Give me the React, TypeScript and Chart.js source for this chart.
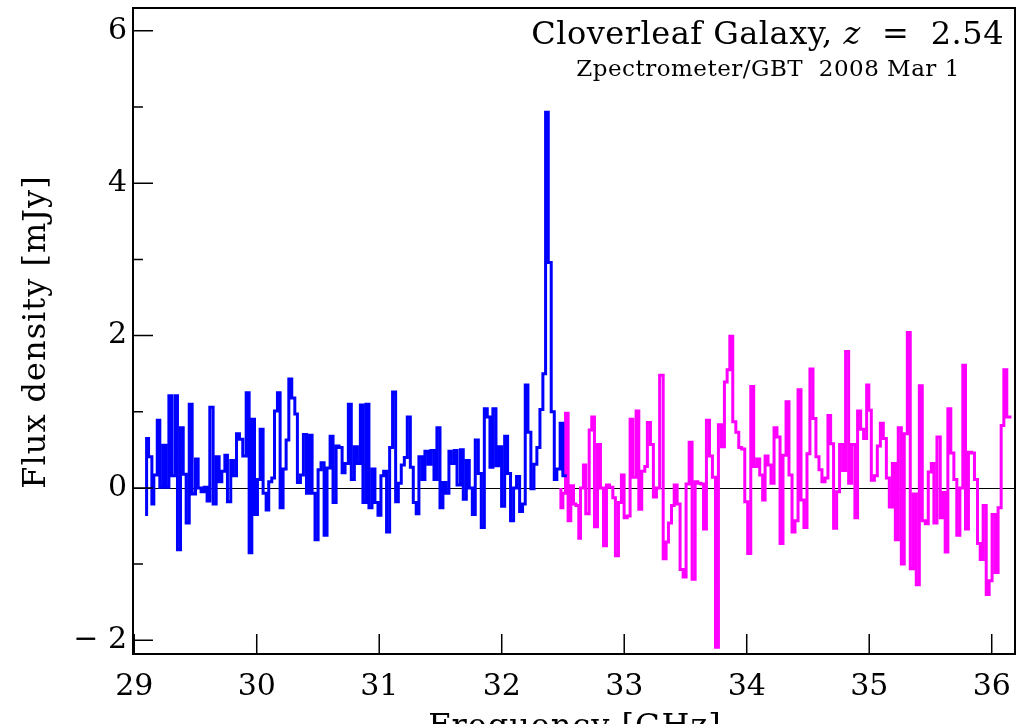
import React, { useEffect, useRef } from 'react';
import { Chart, registerables } from 'chart.js';

Chart.register(...registerables);

// Axis ranges and ticks
const xMin = 28.99;
const xMax = 36.19;
const yMin = -2.18;
const yMax = 6.3;
const xTicks = [29, 30, 31, 32, 33, 34, 35, 36];
const yMajorTicks = [-2, 0, 2, 4, 6];
const yMinorTicks = [-1, 1, 3, 5];

const titleMain = 'Cloverleaf Galaxy, ';
const titleVar = 'z';
const titleRest = '  =  2.54';
const subtitle = 'Zpectrometer/GBT  2008 Mar 1';
const xTitle = 'Frequency [GHz]';
const yTitle = 'Flux density [mJy]';

// Blue spectrum (channel start frequency in GHz, flux in mJy)
const blueFreq = [
  29.101, 29.117, 29.144, 29.16, 29.188, 29.209, 29.234, 29.258, 29.283, 29.305,
  29.332, 29.353, 29.378, 29.4, 29.424, 29.449, 29.473, 29.5, 29.522, 29.546,
  29.571, 29.595, 29.617, 29.644, 29.669, 29.693, 29.715, 29.74, 29.761, 29.788,
  29.81, 29.835, 29.859, 29.886, 29.914, 29.938, 29.96, 29.982, 30.006, 30.028,
  30.052, 30.077, 30.098, 30.123, 30.145, 30.169, 30.191, 30.215, 30.24, 30.262,
  30.286, 30.311, 30.332, 30.357, 30.381, 30.406, 30.43, 30.452, 30.476, 30.501,
  30.525, 30.55, 30.574, 30.599, 30.623, 30.648, 30.672, 30.697, 30.721, 30.748,
  30.772, 30.797, 30.821, 30.846, 30.867, 30.892, 30.916, 30.941, 30.965, 30.99,
  31.014, 31.036, 31.06, 31.085, 31.109, 31.134, 31.156, 31.18, 31.205, 31.229,
  31.254, 31.278, 31.302, 31.324, 31.349, 31.373, 31.398, 31.422, 31.447, 31.471,
  31.496, 31.52, 31.544, 31.569, 31.588, 31.613, 31.635, 31.662, 31.686, 31.711,
  31.735, 31.76, 31.784, 31.809, 31.833, 31.858, 31.882, 31.904, 31.928, 31.953,
  31.975, 31.999, 32.024, 32.048, 32.072, 32.097, 32.121, 32.146, 32.17, 32.192,
  32.214, 32.238, 32.263, 32.287, 32.312, 32.336, 32.358, 32.38, 32.404, 32.429,
  32.45, 32.477, 32.499, 32.521, 32.531,
];
const blueFlux = [
  -0.37, 0.65, 0.41, -0.21, 0.17, 0.89, 0.01, 0.56, 0.01, 1.21,
  0.16, 1.21, -0.81, 0.79, 0.18, -0.46, 1.1, -0.08, 0.38, 0.0,
  -0.05, 0.01, -0.17, 1.06, -0.21, 0.41, 0.08, 0.22, 0.43, -0.18,
  0.36, 0.16, 0.71, 0.64, 0.42, 1.25, -0.85, 0.9, -0.35, 0.11,
  0.77, -0.07, -0.29, 0.08, 0.13, 1.01, 1.25, -0.26, 0.25, 0.63,
  1.43, 1.18, 0.97, 0.07, 0.17, 0.7, -0.07, 0.69, -0.07, -0.68,
  0.24, 0.33, -0.62, 0.26, 0.68, -0.19, 0.55, 0.53, 0.2, 0.32,
  1.1, 0.11, 0.54, 0.32, 1.09, -0.19, 1.1, -0.26, 0.25, -0.19,
  -0.36, 0.16, 0.22, -0.58, 0.53, 1.26, -0.18, 0.06, 0.3, 0.4,
  0.93, 0.27, -0.19, -0.34, 0.41, 0.11, 0.48, 0.31, 0.49, 0.11,
  0.79, -0.26, 0.07, -0.07, 0.48, 0.32, 0.49, 0.04, 0.5, -0.15,
  0.36, 0.0, -0.35, 0.63, 0.19, -0.52, 1.04, 0.93, 0.27, 1.04,
  0.29, 0.54, -0.24, 0.68, 0.19, -0.43, 0.0, 0.15, -0.31, -0.21,
  1.35, 0.73, -0.01, 0.31, 0.53, 1.03, 1.5, 4.93, 2.96, 1.0,
  0.11, 0.25, 0.85, 0.16, 0.16,
];

// Magenta spectrum (channel start frequency in GHz, flux in mJy)
const magentaFreq = [
  32.483, 32.499, 32.521, 32.542, 32.564, 32.586, 32.605, 32.629, 32.643, 32.667,
  32.686, 32.714, 32.735, 32.757, 32.782, 32.806, 32.831, 32.855, 32.88, 32.907,
  32.928, 32.953, 32.977, 32.999, 33.024, 33.048, 33.07, 33.097, 33.119, 33.143,
  33.168, 33.189, 33.214, 33.238, 33.263, 33.289, 33.318, 33.342, 33.361, 33.386,
  33.408, 33.432, 33.456, 33.481, 33.505, 33.53, 33.554, 33.579, 33.601, 33.625,
  33.647, 33.671, 33.696, 33.72, 33.745, 33.769, 33.794, 33.818, 33.84, 33.862,
  33.886, 33.911, 33.935, 33.959, 33.984, 34.008, 34.033, 34.057, 34.082, 34.106,
  34.13, 34.15, 34.174, 34.198, 34.223, 34.247, 34.272, 34.296, 34.321, 34.345,
  34.37, 34.394, 34.419, 34.443, 34.467, 34.492, 34.516, 34.541, 34.565, 34.59,
  34.614, 34.639, 34.663, 34.685, 34.709, 34.734, 34.758, 34.783, 34.807, 34.832,
  34.856, 34.883, 34.905, 34.93, 34.954, 34.979, 34.997, 35.017, 35.042, 35.066,
  35.091, 35.115, 35.14, 35.164, 35.189, 35.213, 35.237, 35.262, 35.286, 35.311,
  35.335, 35.36, 35.384, 35.409, 35.433, 35.458, 35.482, 35.507, 35.528, 35.553,
  35.58, 35.596, 35.62, 35.642, 35.666, 35.691, 35.715, 35.74, 35.764, 35.786,
  35.81, 35.835, 35.859, 35.884, 35.906, 35.93, 35.955, 35.979, 36.003, 36.028,
  36.052, 36.077, 36.099, 36.123, 36.147, 36.161,
];
const magentaFlux = [
  0.0, -0.26, -0.07, 0.98, -0.43, 0.03, -0.21, -0.23, -0.66, 0.0,
  0.3, -0.34, 0.76, 0.93, -0.51, 0.57, 0.0, -0.76, 0.04, 0.01,
  -0.13, -0.89, -0.19, 0.17, -0.39, -0.37, 0.9, 0.14, 1.01, -0.28,
  0.22, 0.28, 0.86, 0.57, -0.12, 0.0, 1.48, -0.93, -0.71, -0.46,
  -0.23, 0.04, -0.21, -1.07, -1.17, 0.05, 0.6, -1.2, 0.08, 0.06,
  0.05, -0.54, 0.89, 0.42, 0.14, -2.09, 0.83, 0.54, 1.39, 1.55,
  1.99, 0.87, 0.73, 0.53, 0.51, -0.18, -0.86, 1.33, 0.28, 0.38,
  0.17, -0.16, 0.42, 0.3, 0.06, 0.79, 0.67, -0.73, 0.43, 1.13,
  0.17, -0.58, -0.43, 1.29, -0.16, -0.52, 0.45, 1.56, 0.91, 0.41,
  0.24, 0.08, 0.13, 0.95, 0.58, -0.53, -0.05, 0.57, 0.23, 1.79,
  0.06, 0.57, -0.39, 1.01, 0.77, 0.65, 1.35, 1.02, 0.1, 0.16,
  0.55, 0.85, 0.65, 0.13, -0.25, 0.32, -0.68, 0.79, -1.0, 0.71,
  2.04, -1.06, -0.08, -1.27, 1.34, -0.43, -0.47, 0.21, 0.32, -0.46,
  0.67, -0.39, -0.06, -0.84, 1.04, 0.46, 0.11, -0.62, 0.0, 1.61,
  -0.54, 0.47, 0.46, 0.11, -0.73, -0.94, -0.23, -1.4, -1.22, -0.35,
  -1.11, -0.26, 0.82, 1.55, 0.93, 0.93,
];

const FONT = 'DejaVu Serif';

const decor = {
  id: 'decor',
  beforeDatasetsDraw(chart: any) {
    const { ctx, chartArea: a, scales } = chart;
    const y0 = Math.round(scales.y.getPixelForValue(0)) + 0.5;
    ctx.save();
    ctx.strokeStyle = '#000';
    ctx.lineWidth = 1;
    ctx.beginPath();
    ctx.moveTo(a.left, y0);
    ctx.lineTo(a.right, y0);
    ctx.stroke();
    ctx.restore();
  },
  afterDraw(chart: any) {
    const { ctx, chartArea: a, scales } = chart;
    const xs = scales.x;
    const ys = scales.y;
    ctx.save();
    ctx.strokeStyle = '#000';
    ctx.lineWidth = 2;
    ctx.strokeRect(a.left, a.top, a.right - a.left, a.bottom - a.top);
    ctx.lineWidth = 1.5;
    ctx.beginPath();
    yMajorTicks.forEach((v) => {
      const p = ys.getPixelForValue(v);
      ctx.moveTo(a.left, p);
      ctx.lineTo(a.left + 20, p);
    });
    yMinorTicks.forEach((v) => {
      const p = ys.getPixelForValue(v);
      ctx.moveTo(a.left, p);
      ctx.lineTo(a.left + 10, p);
    });
    xTicks.forEach((v) => {
      const p = xs.getPixelForValue(v);
      ctx.moveTo(p, a.bottom);
      ctx.lineTo(p, a.bottom - 20);
    });
    ctx.stroke();

    ctx.fillStyle = '#000';
    ctx.textBaseline = 'alphabetic';
    // Title (right aligned, italic z)
    const normal = `32px "${FONT}"`;
    const italic = `italic 32px "${FONT}"`;
    ctx.letterSpacing = '0.5px';
    ctx.font = normal;
    const w1 = ctx.measureText(titleMain).width;
    const w3 = ctx.measureText(titleRest).width;
    ctx.font = italic;
    const w2 = ctx.measureText(titleVar).width;
    const right = 1004;
    let x = right - (w1 + w2 + w3);
    const tb = 44;
    ctx.font = normal;
    ctx.textAlign = 'left';
    ctx.fillText(titleMain, x, tb);
    x += w1;
    ctx.font = italic;
    ctx.fillText(titleVar, x, tb);
    x += w2;
    ctx.font = normal;
    ctx.fillText(titleRest, x, tb);

    ctx.font = `23px "${FONT}"`;
    ctx.textAlign = 'center';
    ctx.fillText(subtitle, 768, 76);

    // Axis titles
    ctx.letterSpacing = '1px';
    ctx.font = `32px "${FONT}"`;
    ctx.textAlign = 'center';
    ctx.fillText(xTitle, 575, 736);
    ctx.save();
    ctx.translate(45, 332);
    ctx.rotate(-Math.PI / 2);
    ctx.fillText(yTitle, 0, 0);
    ctx.restore();
    ctx.letterSpacing = '0px';
    ctx.restore();
  },
};

export default function App() {
  const ref = useRef<HTMLCanvasElement>(null);
  useEffect(() => {
    document.body.style.margin = '0';
    const chart = new Chart(ref.current as HTMLCanvasElement, {
      type: 'line',
      data: {
        datasets: [
          {
            data: blueFreq.map((f, i) => ({ x: f, y: blueFlux[i] })),
            borderColor: '#0000ff',
            borderWidth: 3,
            pointRadius: 0,
            stepped: 'after',
            fill: false,
          },
          {
            data: magentaFreq.map((f, i) => ({ x: f, y: magentaFlux[i] })),
            borderColor: '#ff00ff',
            borderWidth: 3,
            pointRadius: 0,
            stepped: 'after',
            fill: false,
          },
        ],
      },
      options: {
        animation: false,
        responsive: false,
        devicePixelRatio: 1,
        layout: { padding: { top: 8, right: 11, left: 0, bottom: 0 } },
        plugins: { legend: { display: false }, tooltip: { enabled: false } },
        scales: {
          x: {
            type: 'linear',
            min: xMin,
            max: xMax,
            grid: { display: false, drawTicks: false },
            border: { display: false },
            afterBuildTicks: (s: any) => {
              s.ticks = xTicks.map((v) => ({ value: v }));
            },
            afterFit: (s: any) => {
              s.height = 70;
              s.paddingLeft = 0;
              s.paddingRight = 0;
            },
            ticks: {
              font: { family: FONT, size: 30 },
              color: '#000',
              padding: 15,
              maxRotation: 0,
              autoSkip: false,
              callback: (v: any) => String(v),
            },
          },
          y: {
            type: 'linear',
            min: yMin,
            max: yMax,
            grid: { display: false, drawTicks: false },
            border: { display: false },
            afterBuildTicks: (s: any) => {
              s.ticks = yMajorTicks.map((v) => ({ value: v }));
            },
            afterFit: (s: any) => {
              s.width = 133;
              s.paddingTop = 0;
              s.paddingBottom = 0;
            },
            ticks: {
              font: { family: FONT, size: 30 },
              color: '#000',
              padding: 6,
              autoSkip: false,
              callback: (v: any) => (Number(v) < 0 ? '\u2212 ' + Math.abs(Number(v)) : String(v)),
            },
          },
        },
      },
      plugins: [decor],
    });
    return () => chart.destroy();
  }, []);
  return <canvas ref={ref} width={1026} height={724} style={{ display: 'block' }} />;
}
